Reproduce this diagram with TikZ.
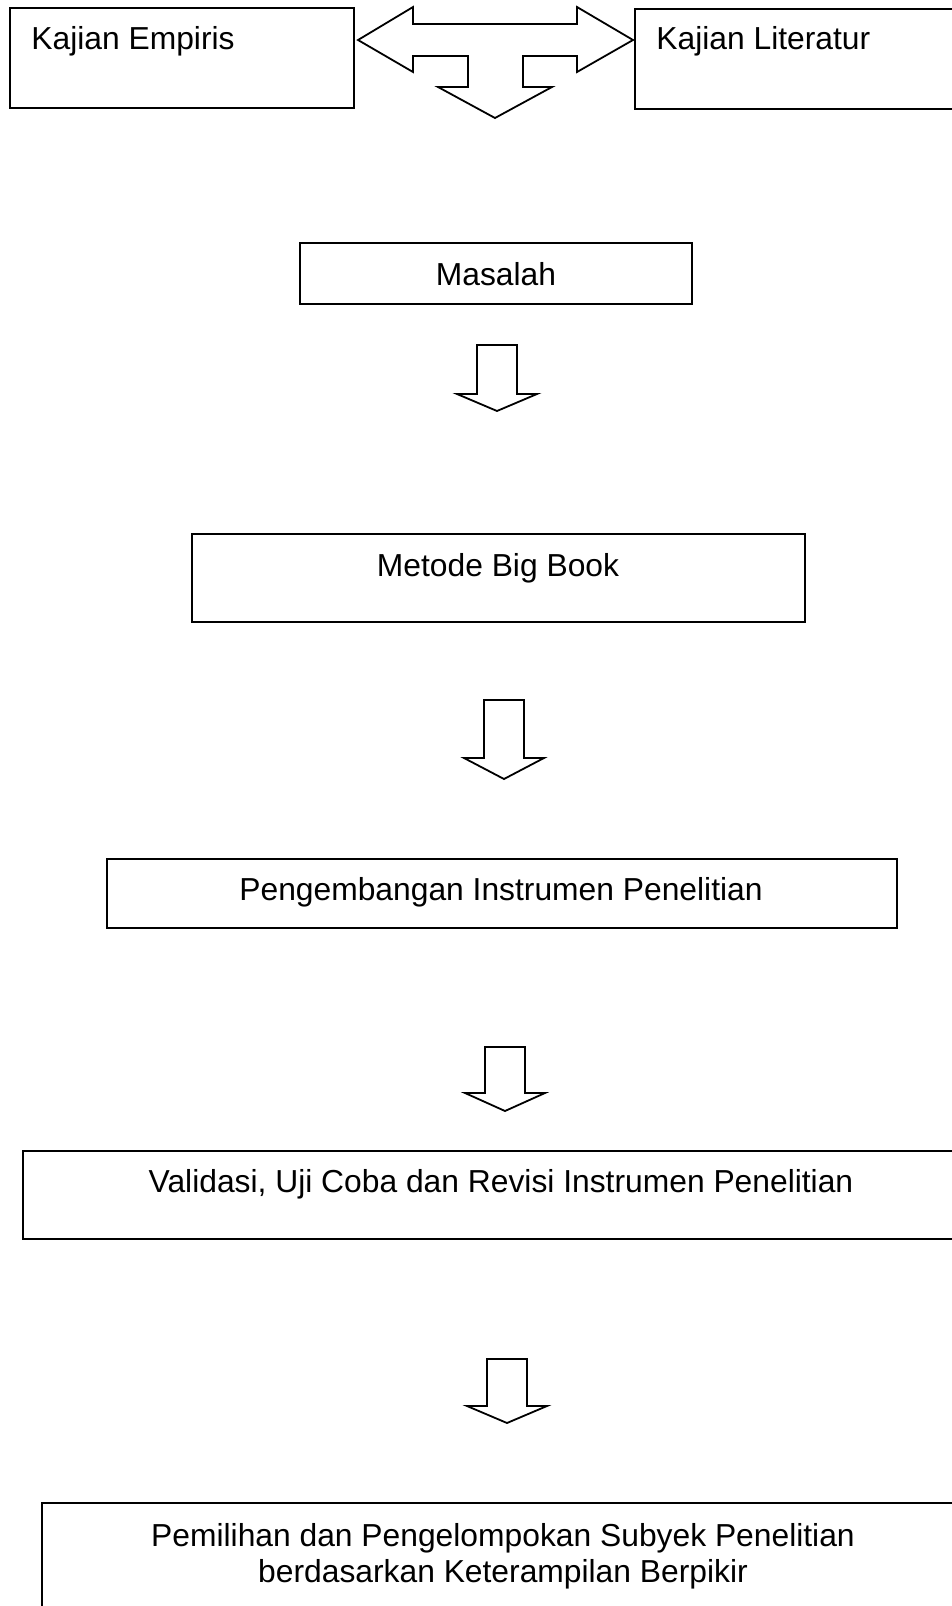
\documentclass[tikz,border=0pt]{standalone}
\usepackage{fontspec}
\setmainfont{Liberation Sans}
\newcommand\blockdown[4]{% cx, top, flare y, tip y
  \draw[shape line] ({#1-20},#2) -- ({#1+20},#2) -- ({#1+20},#3) -- ({#1+40},#3)
    -- (#1,#4) -- ({#1-40},#3) -- ({#1-20},#3) -- cycle;}
\begin{document}
\begin{tikzpicture}[x=0.5pt,y=-0.5pt,
  box/.style={draw=black, line width=0.9pt},
  shape line/.style={draw=black, line width=0.9pt, line join=miter},
  txt/.style={inner sep=0pt, font=\fontsize{15.9}{18}\selectfont, align=center}]
\useasboundingbox (0,0) rectangle (952,1606);
% boxes
\draw[box] (10,8) rectangle (354,108);
\draw[box] (635,9) rectangle (970,109);
\draw[box] (300,243) rectangle (692,304);
\draw[box] (192,534) rectangle (805,622);
\draw[box] (107,859) rectangle (897,928);
\draw[box] (23,1151) rectangle (970,1239);
\draw[box] (42,1503) rectangle (970,1625);
% texts
\node[txt, anchor=base west] (emp) at (31,49) {Kajian Empiris};
\node[txt, anchor=base west] (lit) at (656,49) {Kajian Literatur};
\node[txt, anchor=base] (mas) at (496,285) {Masalah};
\node[txt, anchor=base] (met) at (498,576) {Metode Big Book};
\node[txt, anchor=base] (pen) at (501,900) {Pengembangan Instrumen Penelitian};
\node[txt, anchor=base] (val) at (501,1192) {Validasi, Uji Coba dan Revisi Instrumen Penelitian};
\node[txt] (pem) at (503,1556) {Pemilihan dan Pengelompokan Subyek Penelitian\\berdasarkan Keterampilan Berpikir};
% top T-shaped block arrow
\draw[shape line] (358,40) -- (413,7) -- (413,24) -- (577,24) -- (577,7) -- (633,40)
  -- (577,72) -- (577,56) -- (523,56) -- (523,87) -- (552,87) -- (495,118)
  -- (438,87) -- (468,87) -- (468,56) -- (413,56) -- (413,72) -- cycle;
% down block arrows
\blockdown{497}{345}{394}{411}
\blockdown{504}{700}{758}{779}
\blockdown{505}{1047}{1093}{1111}
\blockdown{507}{1359}{1406}{1423}
\end{tikzpicture}
\end{document}
